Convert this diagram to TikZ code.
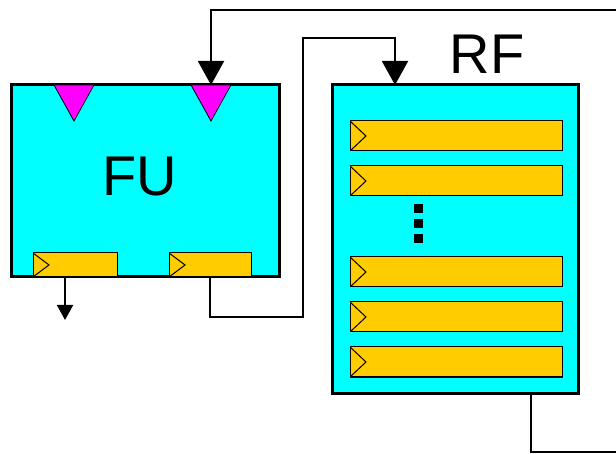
\documentclass[tikz,border=0pt]{standalone}
\usepackage{fontspec}
\setmainfont{Liberation Sans}
\usetikzlibrary{arrows.meta, positioning}
\definecolor{regfill}{HTML}{FFCC00}
\definecolor{unitfill}{HTML}{00FFFF}
\definecolor{portfill}{HTML}{FF00FF}
\tikzstyle{unit}     = [draw, line width=3pt, fill=unitfill, inner sep=0pt, outer sep=0pt]
\tikzstyle{reg}      = [draw, line width=1pt, fill=regfill, inner sep=0pt, outer sep=0pt, minimum height=30pt,
                        path picture={\draw[line width=1pt] (path picture bounding box.north west)
                        -- ([xshift=16pt]path picture bounding box.west) -- (path picture bounding box.south west);}]
\tikzstyle{port}     = [draw, line width=0.8pt, fill=portfill]
\tikzstyle{bus}      = [line width=2pt]
\tikzstyle{arrow}    = [bus, -{Triangle[length=24pt, width=26pt]}]
\tikzstyle{outarrow} = [bus, -{Triangle[length=15pt, width=16pt]}]
\tikzstyle{title}    = [font=\fontsize{56}{56}\selectfont, inner sep=0pt]
\tikzstyle{dot}      = [fill=black, minimum size=9pt, inner sep=0pt]

\begin{document}
\begin{tikzpicture}[x=1pt, y=-1pt]
\useasboundingbox (0,0) rectangle (616,454);

% functional unit
\node[unit, minimum width=268pt, minimum height=192pt] (FU) at (145,181) {};
\node[title] (FUlabel) at (140,177) {FU};
\node[reg, minimum width=84pt, minimum height=24pt] (regA) at (75,265) {};
\node[reg, minimum width=82pt, minimum height=24pt] (regB) at (210,265) {};

% input ports
\coordinate (portA) at (74,85);
\coordinate (portB) at (211,85);
\draw[port] (portA) ++(-20,0) -- ++(40,0) -- ++(-20,36) -- cycle;
\draw[port] (portB) ++(-20,0) -- ++(40,0) -- ++(-20,36) -- cycle;

% register file
\node[unit, minimum width=246pt, minimum height=308pt] (RF) at (455,239) {};
\node[title] (RFlabel) at (487,54) {RF};
\node[reg, minimum width=212pt] (R1) at (456,136) {};
\node[reg, minimum width=212pt, below=15pt of R1] (R2) {};
\node[reg, minimum width=212pt] (R3) at (456,272) {};
\node[reg, minimum width=212pt, below=15pt of R3] (R4) {};
\node[reg, minimum width=212pt, below=15pt of R4] (R5) {};
\foreach \y in {209,224,239}
  \node[dot] (dot\y) at (418,\y) {};

% connections
\coordinate (inB) at (616,10);
\coordinate (bendA) at (303,317);
\coordinate (bendB) at (303,38);
\coordinate (outA) at (65,320);
\coordinate (outB) at (616,452);

\draw[arrow] (inB) -| (portB);
\draw[arrow] (regB.south) |- (bendA) -- (bendB) -| ([xshift=63pt]RF.north west);
\draw[outarrow] ([xshift=-10pt]regA.south) -- (outA);
\draw[bus] ([xshift=76pt]RF.south) |- (outB);

\end{tikzpicture}
\end{document}
